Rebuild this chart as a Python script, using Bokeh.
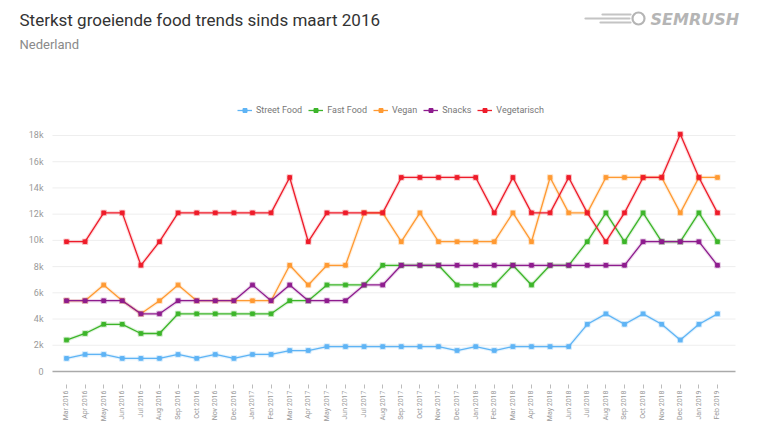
from math import pi
from bokeh.plotting import figure
from bokeh.models import (Range1d, FixedTicker, Legend, LegendItem, Label,
                          ColumnDataSource)
from bokeh.embed import file_html
from bokeh.resources import INLINE

months = ["Mar 2016", "Apr 2016", "May 2016", "Jun 2016", "Jul 2016", "Aug 2016",
          "Sep 2016", "Oct 2016", "Nov 2016", "Dec 2016",
          "Jan 2017", "Feb 2017", "Mar 2017", "Apr 2017", "May 2017", "Jun 2017",
          "Jul 2017", "Aug 2017", "Sep 2017", "Oct 2017", "Nov 2017", "Dec 2017",
          "Jan 2018", "Feb 2018", "Mar 2018", "Apr 2018", "May 2018", "Jun 2018",
          "Jul 2018", "Aug 2018", "Sep 2018", "Oct 2018", "Nov 2018", "Dec 2018",
          "Jan 2019", "Feb 2019"]

street_food = [1000, 1300, 1300, 1000, 1000, 1000, 1300, 1000, 1300, 1000,
               1300, 1300, 1600, 1600, 1900, 1900, 1900, 1900, 1900, 1900, 1900, 1600,
               1900, 1600, 1900, 1900, 1900, 1900, 3600, 4400, 3600, 4400, 3600, 2400,
               3600, 4400]
fast_food = [2400, 2900, 3600, 3600, 2900, 2900, 4400, 4400, 4400, 4400,
             4400, 4400, 5400, 5400, 6600, 6600, 6600, 8100, 8100, 8100, 8100, 6600,
             6600, 6600, 8100, 6600, 8100, 8100, 9900, 12100, 9900, 12100, 9900, 9900,
             12100, 9900]
vegan = [5400, 5400, 6600, 5400, 4400, 5400, 6600, 5400, 5400, 5400,
         5400, 5400, 8100, 6600, 8100, 8100, 12100, 12100, 9900, 12100, 9900, 9900,
         9900, 9900, 12100, 9900, 14800, 12100, 12100, 14800, 14800, 14800, 14800, 12100,
         14800, 14800]
snacks = [5400, 5400, 5400, 5400, 4400, 4400, 5400, 5400, 5400, 5400,
          6600, 5400, 6600, 5400, 5400, 5400, 6600, 6600, 8100, 8100, 8100, 8100,
          8100, 8100, 8100, 8100, 8100, 8100, 8100, 8100, 8100, 9900, 9900, 9900,
          9900, 8100]
vegetarisch = [9900, 9900, 12100, 12100, 8100, 9900, 12100, 12100, 12100, 12100,
               12100, 12100, 14800, 9900, 12100, 12100, 12100, 12100, 14800, 14800, 14800, 14800,
               14800, 12100, 14800, 12100, 12100, 14800, 12100, 9900, 12100, 14800, 14800, 18100,
               14800, 12100]

series_names = ["Street Food", "Fast Food", "Vegan", "Snacks", "Vegetarisch"]
series_values = [street_food, fast_food, vegan, snacks, vegetarisch]
series_colors = ["#5fb4f5", "#3db52a", "#ff9a33", "#8e1c8e", "#ee1c2a"]

y_ticks = [0, 2000, 4000, 6000, 8000, 10000, 12000, 14000, 16000, 18000]
y_tick_labels = ["0", "2k", "4k", "6k", "8k", "10k", "12k", "14k", "16k", "18k"]

title_text = "Sterkst groeiende food trends sinds maart 2016"
subtitle_text = "Nederland"
logo_text = "SEMRUSH"

FONT = "Roboto"
W, H = 760, 428
# plot-area extent in data units (frame covers the whole canvas)
X_LO, X_HI = -3.548, 37.312
Y_LO, Y_HI = -4347, 28296
AREA_X0, AREA_X1 = -0.753, 35.968   # where grid / axis line start and end

p = figure(width=W, height=H, output_backend="svg", toolbar_location=None,
           x_range=Range1d(X_LO, X_HI), y_range=Range1d(Y_LO, Y_HI),
           min_border_left=0, min_border_right=0, min_border_top=0, min_border_bottom=0)
p.outline_line_color = None
p.extra_x_ranges = {"px": Range1d(0, W)}
p.extra_y_ranges = {"px": Range1d(H, 0)}

# grid lines (horizontal), limited to the plot area
p.xgrid.grid_line_color = None
p.ygrid.grid_line_color = None
p.segment(x0=AREA_X0, x1=AREA_X1, y0="y", y1="y",
          source=ColumnDataSource(dict(y=y_ticks[1:])),
          line_color="#eeeeee", line_width=1)

x_idx = list(range(len(months)))
items = []
for name, vals, col in zip(series_names, series_values, series_colors):
    src = ColumnDataSource(dict(x=x_idx, y=vals))
    p.line("x", "y", source=src, color=col, line_width=3.5, line_alpha=0.16)
    r1 = p.line("x", "y", source=src, color=col, line_width=1.3)
    p.scatter("x", "y", source=src, marker="square", size=5.5, color=col, alpha=0.2)
    r2 = p.scatter("x", "y", source=src, marker="square", size=3.6, color=col)
    items.append(LegendItem(label=name, renderers=[r1, r2]))

legend = Legend(items=items, location=(237, 313), orientation="horizontal",
                label_text_font=FONT, label_text_font_size="9px", label_text_color="#777777",
                glyph_width=15, glyph_height=10, label_standoff=4, spacing=6,
                padding=0, margin=0, border_line_color=None, background_fill_alpha=0,
                label_height=10)
p.add_layout(legend, "center")

# y axis, drawn at the left edge of the plot area
p.yaxis.fixed_location = AREA_X0
p.yaxis.ticker = FixedTicker(ticks=y_ticks)
p.yaxis.major_label_overrides = {t: l for t, l in zip(y_ticks, y_tick_labels)}
p.yaxis.axis_line_color = None
p.yaxis.major_tick_line_color = None
p.yaxis.minor_tick_line_color = None
p.yaxis.major_label_text_font = FONT
p.yaxis.major_label_text_font_size = "9px"
p.yaxis.major_label_text_color = "#999999"
p.yaxis.major_label_standoff = 3

# x axis at value 0
p.xaxis.fixed_location = 0
p.xaxis.bounds = (AREA_X0, AREA_X1)
p.xaxis.ticker = FixedTicker(ticks=x_idx)
p.xaxis.major_label_overrides = {i: m for i, m in zip(x_idx, months)}
p.xaxis.major_label_orientation = pi / 2
p.xaxis.axis_line_color = "#aaaaaa"
p.xaxis.axis_line_width = 1.5
p.xaxis.major_tick_line_color = "#bbbbbb"
p.xaxis.major_tick_in = -13
p.xaxis.major_tick_out = 17
p.xaxis.minor_tick_line_color = None
p.xaxis.major_label_text_font = FONT
p.xaxis.major_label_text_font_size = "7px"
p.xaxis.major_label_text_color = "#999999"
p.xaxis.major_label_standoff = 2

# header texts (screen units from the bottom-left of the canvas)
p.add_layout(Label(x=19, y=H - 19, x_units="screen", y_units="screen", text=title_text,
                   text_font=FONT, text_font_size="17px", text_color="#333333",
                   text_baseline="alphabetic"))
p.add_layout(Label(x=19, y=H - 43.5, x_units="screen", y_units="screen", text=subtitle_text,
                   text_font=FONT, text_font_size="13px", text_color="#8a8a8a",
                   text_baseline="alphabetic"))

# logo (decoration, pixel coordinates)
p.segment(x0=[602, 585, 600], y0=[14, 18, 22], x1=[630, 629, 630], y1=[14, 18, 22],
          x_range_name="px", y_range_name="px",
          line_color="#c4c4c4", line_width=2.2, line_cap="round")
p.scatter(x=[638], y=[18], x_range_name="px", y_range_name="px", marker="circle", size=12,
          fill_color="white", line_color="#b5b5b5", line_width=2.2)
p.add_layout(Label(x=650, y=H - 18.8, x_units="screen", y_units="screen", text=logo_text,
                   text_font="DejaVu Sans", text_font_size="16px",
                   text_font_style="bold italic", text_color="#b5b5b5",
                   text_baseline="alphabetic"))

open("out.html", "w").write(file_html(p, INLINE))
